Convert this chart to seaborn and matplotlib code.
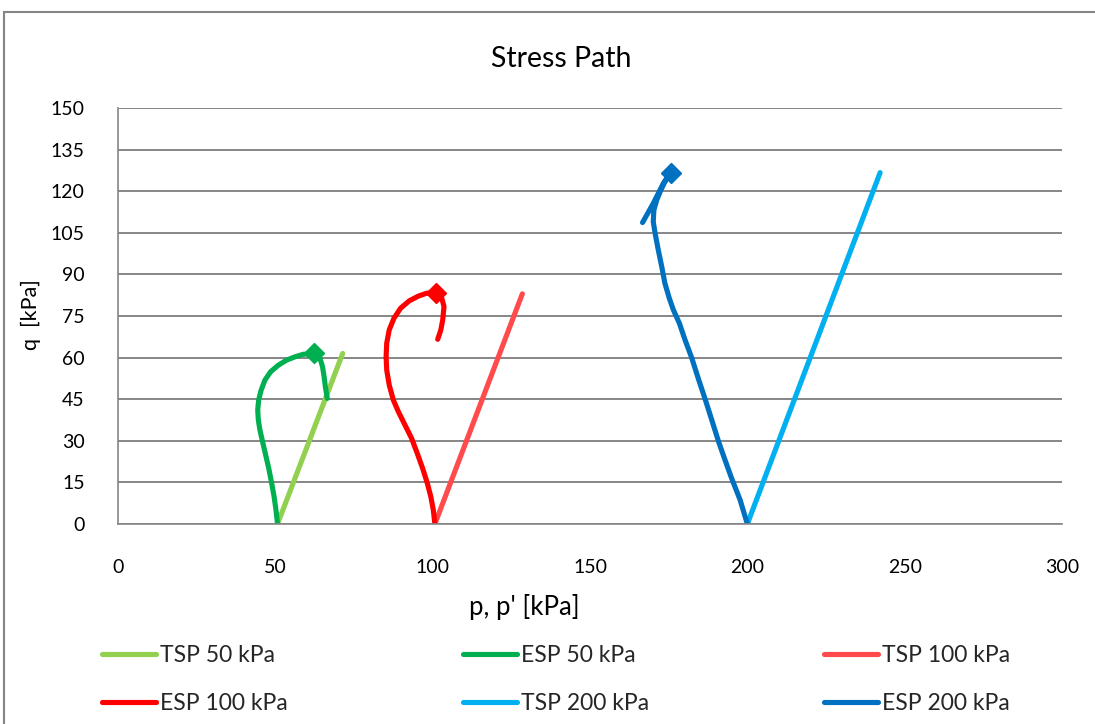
import matplotlib
matplotlib.use("Agg")
import matplotlib.pyplot as plt
from matplotlib.lines import Line2D
from matplotlib.patches import Rectangle
import numpy as np
import pandas as pd
import seaborn as sns

# Stress path data (p or p' in kPa, q in kPa)
tsp50_p = [50.7, 71.4]
tsp50_q = [0.0, 61.5]
esp50_p = [50.7, 50.2, 49.6, 48.8, 47.9, 46.8, 45.9, 45.1, 44.6, 44.4, 44.7, 45.5,
           46.7, 48.5, 51.0, 53.6, 56.3, 58.9, 62.3, 64.2, 65.0, 65.5, 65.9, 66.5]
esp50_q = [0.0, 5.1, 9.9, 14.9, 20.1, 25.5, 29.9, 33.9, 37.5, 41.1, 44.7, 48.3,
           51.9, 54.9, 57.3, 59.1, 60.3, 61.2, 61.5, 59.7, 56.7, 53.1, 49.5, 45.3]

tsp100_p = [100.7, 128.5]
tsp100_q = [0.0, 83.0]
esp100_p = [100.7, 100.2, 99.4, 98.3, 96.8, 95.1, 93.3, 91.2, 89.1, 87.5, 86.2, 85.4,
            85.2, 85.4, 86.2, 87.7, 89.8, 92.6, 95.5, 98.1, 101.0, 102.9, 103.6,
            103.2, 102.6, 101.6]
esp100_q = [0.0, 5.1, 9.9, 14.7, 20.1, 25.5, 30.9, 35.7, 40.5, 44.7, 50.1, 55.5,
            60.3, 65.2, 70.0, 74.2, 77.8, 80.5, 82.2, 83.2, 83.4, 81.4, 78.4,
            73.6, 70.0, 66.6]

tsp200_p = [200.0, 242.2]
tsp200_q = [0.0, 126.7]
esp200_p = [200.0, 197.7, 195.0, 192.9, 190.8, 188.7, 186.6, 184.4, 182.3, 180.2,
            178.4, 176.5, 175.2, 173.8, 172.8, 171.7, 170.7, 170.1, 170.3, 171.2,
            172.5, 173.8, 175.6, 173.3, 170.1, 166.7]
esp200_q = [0.0, 8.7, 16.5, 23.1, 29.9, 37.5, 45.0, 52.5, 60.0, 66.4,
            72.4, 77.2, 81.4, 86.8, 92.8, 98.8, 104.8, 109.0, 113.2, 116.8,
            120.4, 123.4, 126.7, 122.8, 115.6, 108.7]

# Peak points of the effective stress paths
peak_p = [62.3, 101.0, 175.6]
peak_q = [61.5, 83.4, 126.7]

series_names = ["TSP 50 kPa", "ESP 50 kPa", "TSP 100 kPa",
                "ESP 100 kPa", "TSP 200 kPa", "ESP 200 kPa"]
series_p = [tsp50_p, esp50_p, tsp100_p, esp100_p, tsp200_p, esp200_p]
series_q = [tsp50_q, esp50_q, tsp100_q, esp100_q, tsp200_q, esp200_q]
colors = ["#92D050", "#00B050", "#FF4B4B", "#FF0000", "#00B0F0", "#0070C0"]
peak_colors = ["#00B050", "#FF0000", "#0070C0"]

x_ticks = [0, 50, 100, 150, 200, 250, 300]
y_ticks = [0, 15, 30, 45, 60, 75, 90, 105, 120, 135, 150]

frames = []
for name, p, q in zip(series_names, series_p, series_q):
    frames.append(pd.DataFrame({"p": p, "q": q, "series": name,
                                "step": np.arange(len(p))}))
df = pd.concat(frames, ignore_index=True)

sns.set_theme(style="white")
plt.rcParams["font.family"] = ["Lato", "DejaVu Sans"]

grid_col = "#868686"
fig = plt.figure(figsize=(10.95, 7.24), dpi=100)
ax = fig.add_axes([118 / 1095, 1 - 524 / 724, (1062 - 118) / 1095, (524 - 108) / 724])

sns.lineplot(data=df, x="p", y="q", hue="series", hue_order=series_names,
             palette=colors, sort=False, estimator=None, linewidth=3.7,
             solid_capstyle="round", solid_joinstyle="round", legend=False, ax=ax)

for pp, qq, c in zip(peak_p, peak_q, peak_colors):
    ax.plot([pp], [qq], marker="D", markersize=10.5, color=c,
            markeredgecolor=c, linestyle="none", zorder=5)

ax.set_xlim(0, 300)
ax.set_ylim(0, 150)
ax.set_xticks(x_ticks)
ax.set_yticks(y_ticks)
ax.set_xticklabels([str(v) for v in x_ticks])
ax.set_yticklabels([str(v) for v in y_ticks])
ax.yaxis.grid(True, color=grid_col, linewidth=1.4)
ax.xaxis.grid(False)
ax.set_axisbelow(True)
for side in ["top", "right"]:
    ax.spines[side].set_visible(False)
for side in ["left", "bottom"]:
    ax.spines[side].set_color(grid_col)
    ax.spines[side].set_linewidth(1.2)
ax.tick_params(axis="both", which="major", direction="out", length=5,
               width=1.0, color=grid_col, labelsize=14, labelcolor="black")
ax.tick_params(axis="x", pad=20)
ax.tick_params(axis="y", pad=19)
ax.set_xlabel("")
ax.set_ylabel("")

fig.text(561 / 1095, 1 - 59 / 724, "Stress Path", ha="center", va="center",
         fontsize=20.5, color="black")
fig.text(524 / 1095, 1 - 607 / 724, "p, p' [kPa]", ha="center", va="center",
         fontsize=18.5, color="black")
fig.text(31 / 1095, 1 - 315 / 724, "q  [kPa]", ha="center", va="center",
         rotation=90, fontsize=15.5, color="black")

# Outer chart border
fig.patches.append(Rectangle((4 / 1095, -0.1), 1.2, 1 - 12 / 724 + 0.1,
                             transform=fig.transFigure, fill=False,
                             edgecolor=grid_col, linewidth=1.5))

handles = [Line2D([0], [0], color=c, linewidth=3.7, solid_capstyle="round")
           for c in colors]
order = [0, 3, 1, 4, 2, 5]
fig.legend([handles[i] for i in order], [series_names[i] for i in order],
           ncol=3, loc="upper left", bbox_to_anchor=(102 / 1095, 1 - 645 / 724),
           frameon=False, fontsize=16.5, handlelength=2.35, handletextpad=0.17,
           columnspacing=7.65, labelspacing=1.2, borderpad=0, borderaxespad=0)

fig.savefig("out.png", dpi=100)
